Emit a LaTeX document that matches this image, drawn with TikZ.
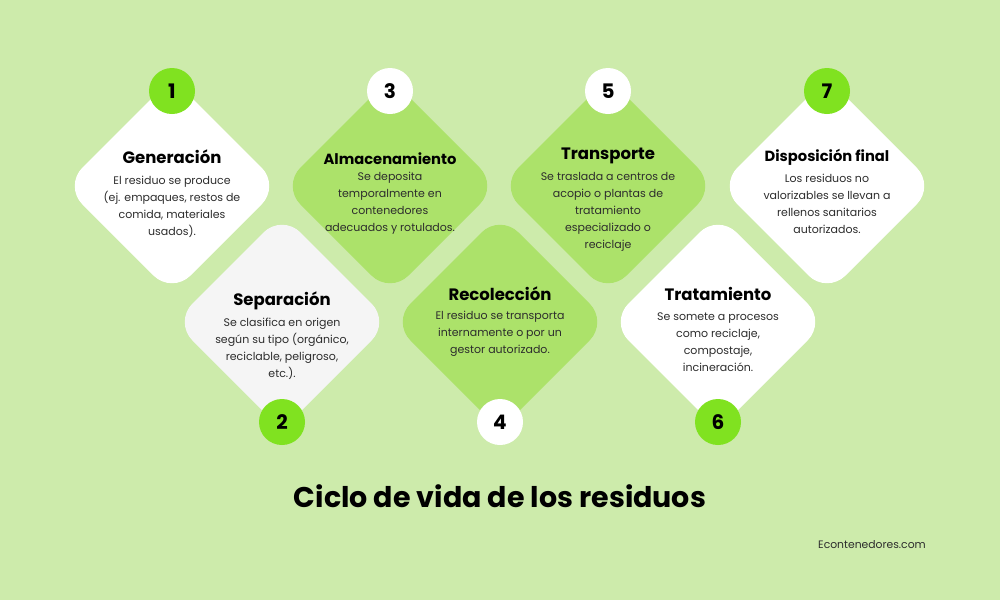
\documentclass[tikz,border=0pt]{standalone}
\usepackage{fontspec}
\setmainfont{Poppins}
\usetikzlibrary{shapes.geometric}
\definecolor{bg}{RGB}{205,235,171}
\definecolor{dgreen}{RGB}{172,226,106}
\definecolor{bgreen}{RGB}{128,226,32}
\definecolor{lgray}{RGB}{245,245,245}
\definecolor{bodytxt}{RGB}{45,45,45}
\tikzset{
  dia/.style={diamond, aspect=1, minimum width=216pt, minimum height=216pt, inner sep=0pt, outer sep=0pt, rounded corners=26pt},
  num/.style={circle, minimum size=46pt, inner sep=0pt, font=\fontsize{20}{24}\selectfont\bfseries, text=black},
  ttl/.style={font=\fontsize{16.5}{19}\selectfont\bfseries, text=black},
  ttls/.style={font=\fontsize{14.7}{17}\selectfont\bfseries, text=black},
  body/.style={font=\fontsize{11}{17}\selectfont, text=bodytxt, align=center, inner sep=0pt},
}
\begin{document}
\begin{tikzpicture}[x=1pt,y=-1pt]
\fill[bg] (0,0) rectangle (1000,600);
\useasboundingbox (0,0) rectangle (1000,600);
% diamonds
\node[dia, fill=white]  (d1) at (172,186) {};
\node[dia, fill=lgray]  (d2) at (282,322) {};
\node[dia, fill=dgreen] (d3) at (390,186) {};
\node[dia, fill=dgreen] (d4) at (500,322) {};
\node[dia, fill=dgreen] (d5) at (608,186) {};
\node[dia, fill=white]  (d6) at (718,322) {};
\node[dia, fill=white]  (d7) at (827,186) {};
% number circles
\node[num, fill=bgreen] (n1) at (172,91) {1};
\node[num, fill=bgreen] (n2) at (282,422) {2};
\node[num, fill=white]  (n3) at (390,91) {3};
\node[num, fill=white]  (n4) at (500,422) {4};
\node[num, fill=white]  (n5) at (608,91) {5};
\node[num, fill=bgreen] (n6) at (718,422) {6};
\node[num, fill=bgreen] (n7) at (827,91) {7};
% titles
\node[ttl]  (t1) at (172,157) {Generación};
\node[ttl]  (t2) at (282,301) {Separación};
\node[ttls] (t3) at (390,159) {Almacenamiento};
\node[ttl]  (t4) at (500,294) {Recolección};
\node[ttl]  (t5) at (608,156) {Transporte};
\node[ttl]  (t6) at (718,294) {Tratamiento};
\node[ttls] (t7) at (827,157) {Disposición final};
% bodies
\node[body] (b1) at (172,206.5) {El residuo se produce\\(ej. empaques, restos de\\comida, materiales\\usados).};
\node[body] (b2) at (282,349) {Se clasifica en origen\\según su tipo (orgánico,\\reciclable, peligroso,\\etc.).};
\node[body] (b3) at (390,203.5) {Se deposita\\temporalmente en\\contenedores\\adecuados y rotulados.};
\node[body] (b4) at (500,334) {El residuo se transporta\\internamente o por un\\gestor autorizado.};
\node[body] (b5) at (608,212) {Se traslada a centros de\\acopio o plantas de\\tratamiento\\especializado o\\reciclaje};
\node[body] (b6) at (718,342.5) {Se somete a procesos\\como reciclaje,\\compostaje,\\incineración.};
\node[body] (b7) at (827,204) {Los residuos no\\valorizables se llevan a\\rellenos sanitarios\\autorizados.};
% footer
\node[font=\fontsize{28.5}{32}\selectfont\bfseries, text=black] (title) at (500,496) {Ciclo de vida de los residuos};
\node[font=\fontsize{10.8}{13}\selectfont, text=bodytxt] (site) at (872,545) {Econtenedores.com};
\end{tikzpicture}
\end{document}
